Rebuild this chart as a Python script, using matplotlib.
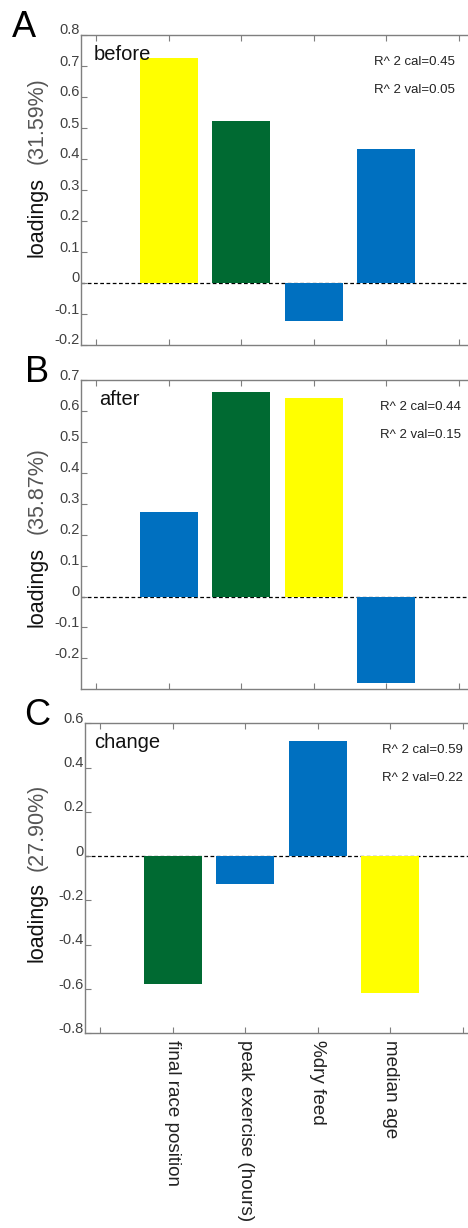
import matplotlib
matplotlib.use("Agg")
import matplotlib.pyplot as plt
import matplotlib.transforms as mtransforms
import numpy as np

plt.rcParams['font.family'] = ['Liberation Sans', 'DejaVu Sans']

variables = ['final race position', 'peak exercise (hours)', '%dry feed', 'median age']
YELLOW = '#ffff00'
GREEN = '#006a32'
BLUE = '#0070c0'

# panel A: before
before_vals = [0.727, 0.522, -0.121, 0.432]
before_cols = [YELLOW, GREEN, BLUE, BLUE]
# panel B: after
after_vals = [0.274, 0.661, 0.642, -0.281]
after_cols = [BLUE, GREEN, YELLOW, BLUE]
# panel C: change
change_vals = [-0.576, -0.126, 0.521, -0.617]
change_cols = [GREEN, BLUE, BLUE, YELLOW]

panels = [
    dict(letter='A', name='before', vals=before_vals, cols=before_cols,
         var='31.59%', r2=('0.45', '0.05'), ylim=(-0.2, 0.8),
         yticks=np.round(np.arange(-0.2, 0.81, 0.1), 1)),
    dict(letter='B', name='after', vals=after_vals, cols=after_cols,
         var='35.87%', r2=('0.44', '0.15'), ylim=(-0.3, 0.7),
         yticks=np.round(np.arange(-0.2, 0.71, 0.1), 1)),
    dict(letter='C', name='change', vals=change_vals, cols=change_cols,
         var='27.90%', r2=('0.59', '0.22'), ylim=(-0.8, 0.6),
         yticks=np.round(np.arange(-0.8, 0.61, 0.2), 1)),
]

W, H = 468, 1228
fig = plt.figure(figsize=(W / 100, H / 100), dpi=100)

# axes boxes in pixels: left, top, bottom
boxes = [(81, 35, 345), (81, 380, 689.3), (85.3, 723.3, 1033.3)]
tick0 = [96, 96, 100]
step = 72.6
right_px = 478
r2_right = [455, 461, 463]
letter_x = [12, 25, 24]
name_x = [94, 99, 94]
# y label centres (pixels): 'loadings', '(xx%)'
ylab_c = [(217, 120.5), (587, 491), (922, 827)]

spine_col = '#7f7f7f'
tick_col = '#404040'

for i, (p, (l, t, b), t0) in enumerate(zip(panels, boxes, tick0)):
    ax = fig.add_axes([l / W, 1 - b / H, (right_px - l) / W, (b - t) / H])
    x = np.arange(1, 5)
    ax.axhline(0, color='black', lw=0.9, ls=(0, (3, 2)), zorder=1)
    ax.bar(x, p['vals'], width=0.8, color=p['cols'], zorder=2)
    ax.set_xlim((l - t0) / step, (right_px - t0) / step)
    ax.set_ylim(*p['ylim'])
    ax.set_yticks(p['yticks'])
    ax.set_yticklabels(['0' if v == 0 else ('%g' % v) for v in p['yticks']])
    ax.set_xticks(range(6))
    if p['letter'] == 'C':
        ax.set_xticklabels([''] + variables + [''], rotation=270,
                           fontsize=13.6, color='#222222', va='top', ha='center')
    else:
        ax.set_xticklabels([])
    for s in ax.spines.values():
        s.set_color(spine_col)
        s.set_linewidth(1.0)
    ax.spines['right'].set_visible(False)
    ax.tick_params(axis='both', direction='in', length=4, width=0.8,
                   color=spine_col, top=True, right=False)
    ax.tick_params(axis='y', labelsize=10.5, labelcolor=tick_col, pad=1)
    ax.tick_params(axis='x', pad=5)
    off = mtransforms.ScaledTranslation(0, 6 / 100, fig.dpi_scale_trans)
    for lab in ax.get_yticklabels():
        lab.set_transform(lab.get_transform() + off)

    # panel name and R^2 texts
    fig.text(name_x[i] / W, 1 - (t + 25) / H, p['name'], fontsize=14.5,
             color='#111111', va='baseline', ha='left')
    fig.text(r2_right[i] / W, 1 - (t + 30) / H, 'R^ 2 cal=' + p['r2'][0],
             fontsize=9.5, color='#222222', va='baseline', ha='right')
    fig.text(r2_right[i] / W, 1 - (t + 58) / H, 'R^ 2 val=' + p['r2'][1],
             fontsize=9.5, color='#222222', va='baseline', ha='right')

    # panel letter
    fig.text(letter_x[i] / W, 1 - (t + 2) / H, p['letter'], fontsize=26,
             color='black', va='baseline', ha='left')

    # y label
    fig.text(37 / W, 1 - ylab_c[i][0] / H, 'loadings', rotation=90,
             fontsize=15.5, color='#111111', ha='center', va='center')
    fig.text(37 / W, 1 - ylab_c[i][1] / H, '(' + p['var'] + ')', rotation=90,
             fontsize=15.5, color='#555555', ha='center', va='center')

plt.savefig('out.png', dpi=100)
